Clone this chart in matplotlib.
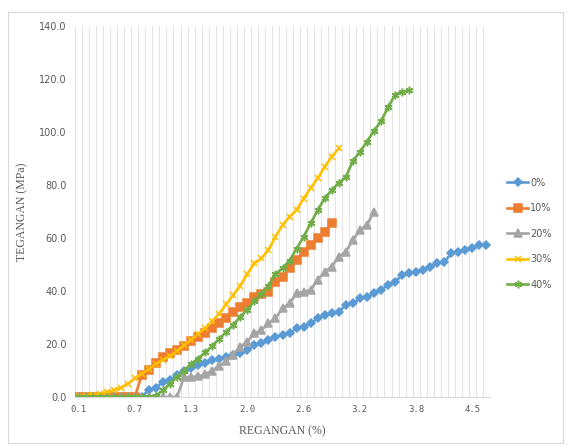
import numpy as np
import matplotlib
matplotlib.use("Agg")
import matplotlib.pyplot as plt
from matplotlib.patches import Rectangle

# label sumbu x (setiap 8 kategori)
x_labels = ['0.1', '0.7', '1.3', '2.0', '2.6', '3.2', '3.8', '4.5']
n_kategori = 59

# tegangan (MPa) tiap kadar
s0 = [0]*10 + [2.8, 3.4, 5.8, 6.4, 8.3, 10.0, 10.9, 12.0, 13.0, 13.8, 14.5, 15.2, 15.8,
               16.5, 17.7, 19.6, 20.2, 21.5, 22.8, 23.4, 24.0, 25.9, 26.6, 27.8, 29.7,
               30.9, 31.8, 32.2, 34.7, 35.3, 37.2, 37.9, 39.1, 40.4, 42.3, 43.5, 46.0,
               46.7, 47.3, 47.9, 49.2, 50.4, 51.0, 54.2, 54.8, 55.5, 56.1, 57.4, 57.4]
s10 = [0]*9 + [8.3, 10.2, 13.0, 15.0, 16.5, 17.7, 19.2, 21.0, 22.8, 24.0, 26.0, 28.0, 30.0,
               32.0, 34.1, 35.4, 37.9, 38.9, 39.7, 43.5, 45.4, 48.6, 51.7, 54.8, 57.4,
               59.9, 62.4, 65.5]
s20 = [0]*15 + [7.5, 7.5, 7.8, 8.5, 10.0, 11.8, 13.5, 16.0, 19.0, 20.9, 24.0, 25.3, 27.8,
                29.7, 33.5, 35.4, 39.1, 39.7, 40.4, 44.2, 47.3, 49.2, 53.0, 54.8, 59.2,
                63.0, 64.9, 69.9]
s30 = [0, 0.3, 0.8, 1.2, 1.8, 2.5, 3.5, 5.0, 7.0, 8.8, 10.5, 12.5, 14.0, 15.5, 17.2, 19.5,
       21.5, 23.8, 26.0, 28.5, 31.5, 35.0, 38.5, 42.0, 46.5, 50.4, 52.3, 55.5, 60.5,
       64.9, 68.0, 70.6, 74.9, 78.8, 82.5, 86.9, 90.7, 93.8]
s40 = [0]*11 + [0.5, 2.5, 5.0, 7.5, 10.0, 12.5, 14.5, 16.8, 19.2, 22.0, 24.5, 27.2, 30.3,
                33.0, 36.2, 39.0, 42.0, 46.5, 48.5, 51.5, 56.0, 60.5, 65.5, 70.5, 75.0,
                78.0, 80.8, 83.0, 89.0, 92.5, 96.3, 100.5, 104.0, 109.3, 114.0, 115.2, 115.7]

seri = [
    ('0%', s0, '#5B9BD5', 'D', 4.2),
    ('10%', s10, '#ED7D31', 's', 6),
    ('20%', s20, '#A5A5A5', '^', 5.5),
    ('30%', s30, '#FFC000', 'x', 4.5),
    ('40%', s40, '#70AD47', (6, 2, 0), 5.5),
]

fig = plt.figure(figsize=(5.68, 4.47), dpi=100)
W, H = 568, 447
fig.patches.append(Rectangle((8 / W, 4 / H), 555 / W, 431 / H, transform=fig.transFigure,
                             fill=False, edgecolor='#D9D9D9', linewidth=0.8))

ax = fig.add_axes([75 / W, 1 - 397 / H, 415 / W, 371 / H])

for nama, y, warna, mk, ms in seri:
    x = np.arange(len(y))
    ax.plot(x, y, color=warna, linewidth=1.9, marker=mk, markersize=ms,
            markeredgewidth=1.1, markeredgecolor=warna, markerfacecolor=warna, label=nama)

ax.set_xlim(-0.5, n_kategori - 0.5)
ax.set_ylim(0, 140)

# garis grid vertikal di batas kategori
for g in np.arange(-0.5, n_kategori, 1.0):
    ax.axvline(g, color='#E3E3E3', linewidth=0.8, zorder=0)

ax.set_xticks(np.arange(0, n_kategori, 8))
ax.set_xticklabels(x_labels, family='DejaVu Sans Mono', fontsize=6.5, color='#595959')
ax.set_yticks(np.arange(0, 141, 20))
ax.set_yticklabels(['%.1f' % v for v in np.arange(0, 141, 20)], fontsize=7, color='#595959')
ax.tick_params(length=0, pad=6)

for s in ['top', 'right', 'left']:
    ax.spines[s].set_visible(False)
ax.spines['bottom'].set_color('#D9D9D9')

ax.set_xlabel('REGANGAN (%)', family='Liberation Serif', fontsize=8.5, color='#595959', labelpad=8)
ax.set_ylabel('TEGANGAN (MPa)', family='Liberation Serif', fontsize=8.5, color='#595959', labelpad=8)

leg = ax.legend(loc='center left', bbox_to_anchor=(1.02, 0.44), frameon=False, fontsize=7,
                labelspacing=1.6, handlelength=2.2, handletextpad=0.2)
for t in leg.get_texts():
    t.set_color('#595959')

fig.savefig('out.png', dpi=100)
